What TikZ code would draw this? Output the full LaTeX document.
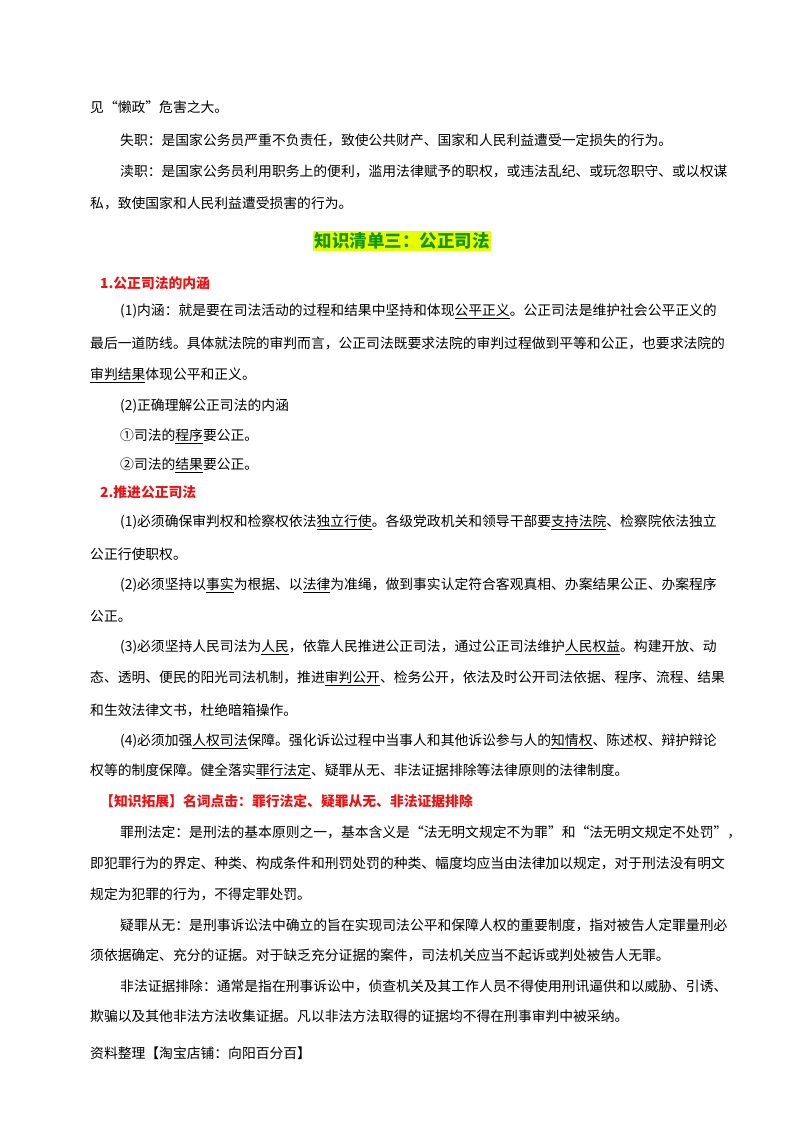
\documentclass[tikz,border=0pt]{standalone}
\usepackage{fontspec}
\setmainfont{Noto Sans CJK SC}
\definecolor{hl}{RGB}{230,255,0}
\definecolor{tg}{RGB}{20,150,20}
\definecolor{rd}{RGB}{235,20,20}
\begin{document}
\begin{tikzpicture}[x=1pt,y=-1pt,
  ln/.style={anchor=west,inner sep=0pt,font=\fontsize{13.8}{14}\selectfont},
  hd/.style={ln,text=rd,font=\fontsize{13.8}{14}\selectfont\bfseries}]
\useasboundingbox (0,0) rectangle (800,1132);
\fill[white] (0,0) rectangle (800,1132);
\node[ln] (a1) at (90,107) {见“懒政”危害之大。};
\node[ln] (a2) at (120,140) {失职：是国家公务员严重不负责任，致使公共财产、国家和人民利益遭受一定损失的行为。};
\node[ln] (a3) at (120,171) {渎职：是国家公务员利用职务上的便利，滥用法律赋予的职权，或违法乱纪、或玩忽职守、或以权谋};
\node[ln] (a4) at (90,203) {私，致使国家和人民利益遭受损害的行为。};
\node[fill=hl,text=tg,inner sep=1.5pt,font=\fontsize{17.5}{18}\selectfont\bfseries] (t) at (402,241) {知识清单三：公正司法};
\node[hd] (h1) at (100,283) {1.公正司法的内涵};
\node[ln] (b1) at (120,311) {(1)内涵：就是要在司法活动的过程和结果中坚持和体现\underline{公平正义}。公正司法是维护社会公平正义的};
\node[ln] (b2) at (90,343) {最后一道防线。具体就法院的审判而言，公正司法既要求法院的审判过程做到平等和公正，也要求法院的};
\node[ln] (b3) at (90,375) {\underline{审判结果}体现公平和正义。};
\node[ln] (b4) at (120,406) {(2)正确理解公正司法的内涵};
\node[ln] (b5) at (120,436) {①司法的\underline{程序}要公正。};
\node[ln] (b6) at (120,465) {②司法的\underline{结果}要公正。};
\node[hd] (h2) at (100,492) {2.推进公正司法};
\node[ln] (c1) at (120,522) {(1)必须确保审判权和检察权依法\underline{独立行使}。各级党政机关和领导干部要\underline{支持法院}、检察院依法独立};
\node[ln] (c2) at (90,554) {公正行使职权。};
\node[ln] (c3) at (120,585) {(2)必须坚持以\underline{事实}为根据、以\underline{法律}为准绳，做到事实认定符合客观真相、办案结果公正、办案程序};
\node[ln] (c4) at (90,616) {公正。};
\node[ln] (c5) at (120,647) {(3)必须坚持人民司法为\underline{人民}，依靠人民推进公正司法，通过公正司法维护\underline{人民权益}。构建开放、动};
\node[ln] (c6) at (90,678) {态、透明、便民的阳光司法机制，推进\underline{审判公开}、检务公开，依法及时公开司法依据、程序、流程、结果};
\node[ln] (c7) at (90,710) {和生效法律文书，杜绝暗箱操作。};
\node[ln] (c8) at (120,741) {(4)必须加强\underline{人权司法}保障。强化诉讼过程中当事人和其他诉讼参与人的\underline{知情权}、陈述权、辩护辩论};
\node[ln] (c9) at (90,771) {权等的制度保障。健全落实\underline{罪行法定}、疑罪从无、非法证据排除等法律原则的法律制度。};
\node[hd] (h3) at (100,801) {【知识拓展】名词点击：罪行法定、疑罪从无、非法证据排除};
\node[ln] (d1) at (120,832) {罪刑法定：是刑法的基本原则之一，基本含义是“法无明文规定不为罪”和“法无明文规定不处罚”，};
\node[ln] (d2) at (90,863) {即犯罪行为的界定、种类、构成条件和刑罚处罚的种类、幅度均应当由法律加以规定，对于刑法没有明文};
\node[ln] (d3) at (90,894) {规定为犯罪的行为，不得定罪处罚。};
\node[ln] (d4) at (120,925) {疑罪从无：是刑事诉讼法中确立的旨在实现司法公平和保障人权的重要制度，指对被告人定罪量刑必};
\node[ln] (d5) at (90,955) {须依据确定、充分的证据。对于缺乏充分证据的案件，司法机关应当不起诉或判处被告人无罪。};
\node[ln] (d6) at (120,986) {非法证据排除：通常是指在刑事诉讼中，侦查机关及其工作人员不得使用刑讯逼供和以威胁、引诱、};
\node[ln] (d7) at (90,1016) {欺骗以及其他非法方法收集证据。凡以非法方法取得的证据均不得在刑事审判中被采纳。};
\node[ln] (f) at (90,1053) {资料整理【淘宝店铺：向阳百分百】};
\end{tikzpicture}
\end{document}
